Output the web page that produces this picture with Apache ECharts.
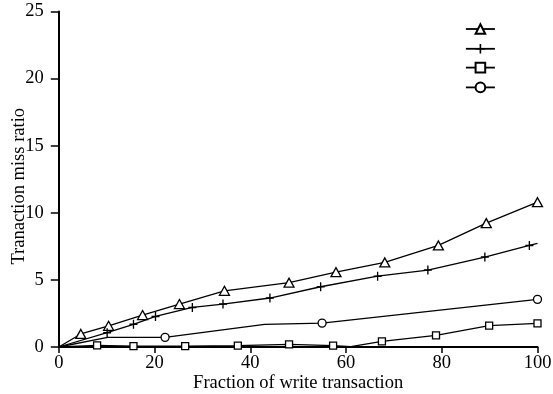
<!DOCTYPE html>
<html>
<head>
<meta charset="utf-8">
<script src="https://cdn.jsdelivr.net/npm/echarts@6/dist/echarts.min.js"></script>
<style>html,body{margin:0;padding:0;background:#fff;}#c{width:553px;height:394px;}</style>
</head>
<body>
<div id="c"></div>
<script>
// Data
const xTicks = [0, 20, 40, 60, 80, 100];
const yTicks = [0, 5, 10, 15, 20, 25];

const triX = [0, 4.6, 10.4, 17.5, 25.2, 34.6, 48.1, 57.9, 68.1, 79.3, 89.3, 100];
const triY = [0, 0.97, 1.58, 2.38, 3.2, 4.19, 4.79, 5.58, 6.3, 7.57, 9.23, 10.79];
const triHidden = [0];

const plusX = [0, 10.1, 15.6, 20.2, 27.9, 34.3, 44.1, 54.7, 66.6, 77.1, 89.0, 98.3, 100];
const plusY = [0, 1.07, 1.69, 2.28, 2.95, 3.2, 3.65, 4.49, 5.28, 5.73, 6.7, 7.57, 7.72];
const plusHidden = [0, 12];

const sqX = [0, 8, 15.6, 26.4, 37.4, 48.1, 57.3, 61, 67.5, 78.8, 89.9, 100];
const sqY = [0, 0.12, 0.06, 0.06, 0.1, 0.2, 0.1, 0.03, 0.42, 0.87, 1.59, 1.76];
const sqHidden = [0, 7];

const cirX = [0, 10.2, 22.2, 43, 55, 100];
const cirY = [0, 0.72, 0.72, 1.68, 1.78, 3.55];
const cirHidden = [0, 1, 3];

const seriesNames = ['s1', 's2', 's3', 's4'];

function build(xs, ys, hidden) {
  return xs.map((v, i) => {
    const item = { value: [v, ys[i]] };
    if (hidden.includes(i)) item.symbol = 'none';
    return item;
  });
}

const FONT = '"Liberation Serif", "DejaVu Serif", serif';
const plusPath = 'path://M3.75,0h1.5v3.75h3.75v1.5h-3.75v3.75h-1.5v-3.75h-3.75v-1.5h3.75z';

const common = {
  type: 'line',
  showAllSymbol: true,
  animation: false,
  lineStyle: { color: '#000', width: 1.3 },
  emphasis: { disabled: true }
};

const chart = echarts.init(document.getElementById('c'), null, { renderer: 'canvas' });
chart.setOption({
  backgroundColor: '#fff',
  animation: false,
  grid: { left: 58.8, right: 15.5, top: 11.5, bottom: 47, containLabel: false, outerBoundsMode: 'none' },
  legend: {
    orient: 'vertical',
    left: 465,
    top: 23,
    padding: 0,
    itemWidth: 29,
    itemHeight: 12,
    itemGap: 8,
    formatter: () => '',
    data: seriesNames,
    selectedMode: false,
    lineStyle: { width: 1.8 }
  },
  xAxis: {
    type: 'value',
    min: xTicks[0],
    max: xTicks[xTicks.length - 1],
    interval: xTicks[1] - xTicks[0],
    name: 'Fraction of write transaction',
    nameLocation: 'middle',
    nameGap: 27,
    nameMoveOverlap: false,
    nameTextStyle: { fontFamily: FONT, fontSize: 18.5, color: '#000' },
    axisLine: { lineStyle: { color: '#000', width: 2 } },
    axisTick: { inside: false, length: 6, lineStyle: { color: '#000', width: 1.5 } },
    axisLabel: { fontFamily: FONT, fontSize: 18.5, color: '#000', margin: 7 },
    splitLine: { show: false }
  },
  yAxis: {
    type: 'value',
    min: yTicks[0],
    max: yTicks[yTicks.length - 1],
    interval: yTicks[1] - yTicks[0],
    name: 'Tranaction miss ratio',
    nameLocation: 'middle',
    nameGap: 30,
    nameMoveOverlap: false,
    nameTextStyle: { fontFamily: FONT, fontSize: 18.5, color: '#000', padding: [0, 14, 0, 0] },
    axisLine: { show: true, lineStyle: { color: '#000', width: 2 } },
    axisTick: { show: true, inside: false, length: 8, lineStyle: { color: '#000', width: 1.5 } },
    axisLabel: { fontFamily: FONT, fontSize: 18.5, color: '#000', margin: 15 },
    splitLine: { show: false }
  },
  series: [
    Object.assign({}, common, {
      name: seriesNames[0],
      symbol: 'triangle',
      symbolSize: [10, 9],
      itemStyle: { color: '#fff', borderColor: '#000', borderWidth: 1.3 },
      data: build(triX, triY, triHidden)
    }),
    Object.assign({}, common, {
      name: seriesNames[1],
      symbol: plusPath,
      symbolSize: [8, 9],
      itemStyle: { color: '#000', borderWidth: 0 },
      data: build(plusX, plusY, plusHidden)
    }),
    Object.assign({}, common, {
      name: seriesNames[2],
      symbol: 'rect',
      symbolSize: 7,
      itemStyle: { color: '#fff', borderColor: '#000', borderWidth: 1.3 },
      data: build(sqX, sqY, sqHidden)
    }),
    Object.assign({}, common, {
      name: seriesNames[3],
      symbol: 'circle',
      symbolSize: 8,
      itemStyle: { color: '#fff', borderColor: '#000', borderWidth: 1.3 },
      data: build(cirX, cirY, cirHidden)
    })
  ]
});
</script>
</body>
</html>
